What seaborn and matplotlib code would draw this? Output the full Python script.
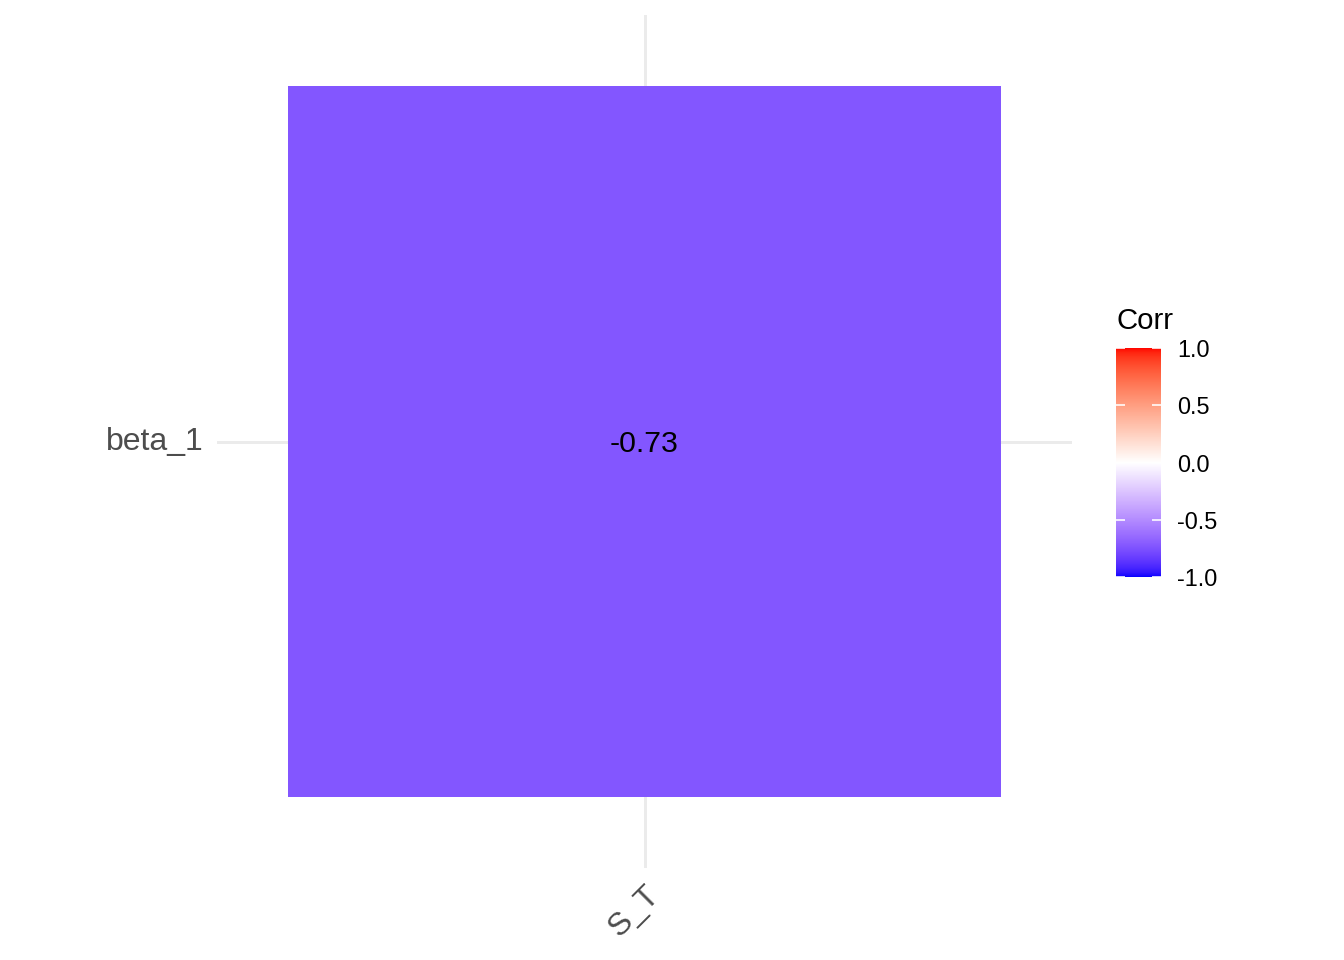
import numpy as np
import pandas as pd
import matplotlib
matplotlib.use("Agg")
import matplotlib.pyplot as plt
import seaborn as sns
from matplotlib.colors import ListedColormap

# correlation matrix (single cell)
row_labels = ["beta_1"]
col_labels = ["S_T"]
corr_values = [[-0.73]]

corr = pd.DataFrame(corr_values, index=row_labels, columns=col_labels)


# blue - white - red gradient interpolated in Lab space (like ggplot gradient2)
def srgb_to_lab(rgb):
    rgb = np.asarray(rgb, dtype=float)
    lin = np.where(rgb <= 0.04045, rgb / 12.92, ((rgb + 0.055) / 1.055) ** 2.4)
    m = np.array([[0.4124, 0.3576, 0.1805],
                  [0.2126, 0.7152, 0.0722],
                  [0.0193, 0.1192, 0.9505]])
    xyz = lin @ m.T / np.array([0.95047, 1.0, 1.08883])
    f = np.where(xyz > 0.008856, np.cbrt(xyz), 7.787 * xyz + 16 / 116)
    return np.stack([116 * f[..., 1] - 16,
                     500 * (f[..., 0] - f[..., 1]),
                     200 * (f[..., 1] - f[..., 2])], axis=-1)


def lab_to_srgb(lab):
    L, a, b = lab[..., 0], lab[..., 1], lab[..., 2]
    fy = (L + 16) / 116
    fx = fy + a / 500
    fz = fy - b / 200
    f = np.stack([fx, fy, fz], axis=-1)
    xyz = np.where(f ** 3 > 0.008856, f ** 3, (f - 16 / 116) / 7.787)
    xyz = xyz * np.array([0.95047, 1.0, 1.08883])
    m = np.array([[3.2406, -1.5372, -0.4986],
                  [-0.9689, 1.8758, 0.0415],
                  [0.0557, -0.2040, 1.0570]])
    lin = xyz @ m.T
    lin = np.clip(lin, 0, 1)
    rgb = np.where(lin <= 0.0031308, 12.92 * lin, 1.055 * lin ** (1 / 2.4) - 0.055)
    return np.clip(rgb, 0, 1)


stops = srgb_to_lab(np.array([[0, 0, 1], [1, 1, 1], [1, 0, 0]]))
t = np.linspace(0, 1, 512)
lab = np.empty((len(t), 3))
for i in range(3):
    lab[:, i] = np.interp(t, [0, 0.5, 1], stops[:, i])
corr_cmap = ListedColormap(lab_to_srgb(lab))

plt.rcParams["font.family"] = ["Liberation Sans", "DejaVu Sans"]

fig = plt.figure(figsize=(7, 5), dpi=192)
ax = fig.add_axes([217 / 1344, 1 - 868 / 960, 855 / 1344, 853 / 960])
cax = fig.add_axes([1116 / 1344, 1 - 577 / 960, 45 / 1344, 229 / 960])

# grid lines behind the tile
ax.axvline(0.5, color="#EBEBEB", linewidth=1.1, zorder=0)
ax.axhline(0.5, color="#EBEBEB", linewidth=1.1, zorder=0)

sns.heatmap(corr, ax=ax, cbar_ax=cax, cmap=corr_cmap, vmin=-1, vmax=1,
            annot=True, fmt=".2f", annot_kws={"color": "black", "size": 11.4})

ax.set_aspect("auto")
ax.set_xlim(-0.1, 1.1)
ax.set_ylim(1.1, -0.1)
ax.set_xlabel("")
ax.set_ylabel("")
for s in ax.spines.values():
    s.set_visible(False)
ax.tick_params(length=0, labelsize=12, labelcolor="#4D4D4D")
ax.tick_params(axis="y", pad=5.0)
ax.tick_params(axis="x", pad=4.5)
plt.setp(ax.get_yticklabels(), rotation=0)
plt.setp(ax.get_xticklabels(), rotation=45, ha="right", rotation_mode="anchor")
for txt in ax.texts:
    txt.set_y(txt.get_position()[1] + 0.004)

# colourbar styling
cb = ax.collections[0].colorbar
cb.outline.set_visible(False)
cb.set_ticks([-1.0, -0.5, 0.0, 0.5, 1.0])
cb.set_ticklabels(["-1.0", "-0.5", "0.0", "0.5", "1.0"])
cax.tick_params(direction="in", color="white", width=0.6, length=3.3,
                left=True, right=True, labelsize=8.8, pad=6)
cax.set_title("Corr", loc="left", fontsize=11, pad=7)

fig.savefig("out.png", dpi=192, facecolor="white")
